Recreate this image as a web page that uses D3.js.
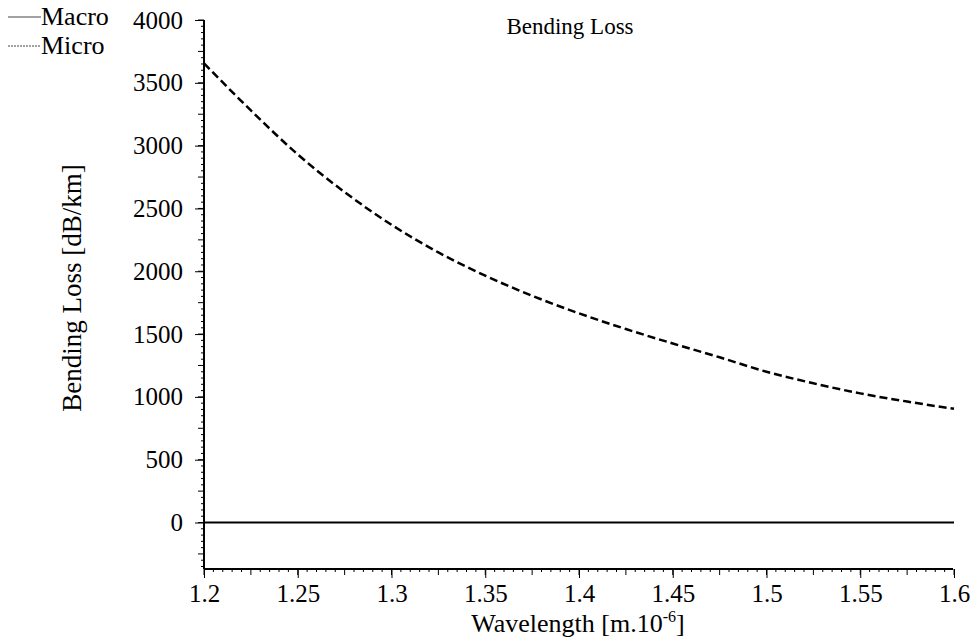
<!DOCTYPE html>
<html>
<head>
<meta charset="utf-8">
<script src="https://cdnjs.cloudflare.com/ajax/libs/d3/7.8.5/d3.min.js"></script>
<style>
  body { margin: 0; background: #fff; }
  text { font-family: "Liberation Serif", "Times New Roman", Times, serif; fill: #000; }
</style>
</head>
<body>
<div id="chart"></div>
<script>
// wavelength in micrometres
const wavelength = [1.2, 1.225, 1.25, 1.275, 1.3, 1.325, 1.35, 1.375, 1.4, 1.425, 1.45,
                    1.475, 1.5, 1.525, 1.55, 1.575, 1.6];
// bending loss, dB/km
const microLoss = [3655, 3280, 2930, 2630, 2370, 2150, 1965, 1805, 1665, 1540, 1425,
                   1315, 1200, 1108, 1028, 963, 905];
const macroLoss = [0, 0, 0, 0, 0, 0, 0, 0, 0, 0, 0, 0, 0, 0, 0, 0, 0];
const xTicks = [1.2, 1.25, 1.3, 1.35, 1.4, 1.45, 1.5, 1.55, 1.6];
const yTicks = [0, 500, 1000, 1500, 2000, 2500, 3000, 3500, 4000];

const W = 976, H = 641;
const margin = {top: 20, right: 22, bottom: 72, left: 204};
const width = W - margin.left - margin.right,
      height = H - margin.top - margin.bottom;

const svg = d3.select('#chart')
  .append('svg')
    .attr('width', W)
    .attr('height', H);
const g = svg.append('g')
  .attr('transform', 'translate(' + margin.left + ',' + margin.top + ')');

const xScale = d3.scaleLinear().domain([1.2, 1.6]).range([0, 750]);
const yScale = d3.scaleLinear().domain([-370, 4000]).range([height, 0]);

// minor / medium ticks
const xMinor = d3.range(0, 81).map(i => 1.2 + i * 0.005);
const yMinor = d3.range(-7, 81).map(i => i * 50);

g.selectAll('.xminor')
  .data(xMinor)
  .enter().append('line')
    .attr('x1', d => xScale(d)).attr('x2', d => xScale(d))
    .attr('y1', height)
    .attr('y2', (d, i) => height + (i % 5 === 0 ? 6 : 3))
    .attr('stroke', '#000').attr('stroke-width', 1);

g.selectAll('.yminor')
  .data(yMinor)
  .enter().append('line')
    .attr('y1', d => yScale(d)).attr('y2', d => yScale(d))
    .attr('x1', 0)
    .attr('x2', d => (d % 250 === 0 ? -6 : -3))
    .attr('stroke', '#000').attr('stroke-width', 1);

const xAxis = g.append('g')
  .attr('transform', 'translate(0,' + height + ')')
  .call(d3.axisBottom(xScale).tickValues(xTicks).tickSize(9).tickPadding(6)
        .tickFormat(d => String(+d.toFixed(2))));
const yAxis = g.append('g')
  .call(d3.axisLeft(yScale).tickValues(yTicks).tickSize(9).tickPadding(12)
        .tickFormat(d3.format('d')));

[xAxis, yAxis].forEach(a => {
  a.select('.domain').attr('stroke-width', 2).attr('d',
    a === xAxis ? 'M0,0H' + (width - 1) : 'M0,0V' + height);
  a.selectAll('.tick line').attr('stroke-width', 1);
  a.selectAll('text')
    .style('font-family', '"Liberation Serif", "Times New Roman", serif')
    .style('font-size', '25px')
    .attr('fill', '#000');
});

const line = d3.line()
  .x((d, i) => xScale(wavelength[i]))
  .y(d => yScale(d))
  .curve(d3.curveMonotoneX);

g.append('path')
  .datum(macroLoss)
  .attr('fill', 'none')
  .attr('stroke', '#000')
  .attr('stroke-width', 2)
  .attr('d', line);

g.append('path')
  .datum(microLoss)
  .attr('fill', 'none')
  .attr('stroke', '#000')
  .attr('stroke-width', 2.5)
  .attr('stroke-dasharray', '8,4')
  .attr('d', line);

// title
svg.append('text')
  .attr('x', 570).attr('y', 34)
  .attr('text-anchor', 'middle')
  .style('font-size', '23px')
  .text('Bending Loss');

// axis labels
const xl = svg.append('text')
  .attr('x', 578).attr('y', 632)
  .attr('text-anchor', 'middle')
  .style('font-size', '26px');
xl.append('tspan').text('Wavelength [m.10');
xl.append('tspan').attr('dy', -10).style('font-size', '16px').text('-6');
xl.append('tspan').attr('dy', 10).text(']');

svg.append('text')
  .attr('transform', 'translate(81,288) rotate(-90)')
  .attr('text-anchor', 'middle')
  .style('font-size', '27px')
  .text('Bending Loss [dB/km]');

// legend
const legend = [
  {name: 'Macro', dash: null},
  {name: 'Micro', dash: '2,1'}
];
const lg = svg.selectAll('.legend')
  .data(legend)
  .enter().append('g')
    .attr('transform', (d, i) => 'translate(8,' + (17 + i * 29) + ')');
lg.append('line')
  .attr('x1', 0).attr('x2', 33)
  .attr('y1', 0).attr('y2', 0)
  .attr('stroke', '#444')
  .attr('stroke-width', 1)
  .attr('stroke-dasharray', d => d.dash);
lg.append('text')
  .attr('x', 33).attr('y', 8)
  .style('font-size', '26px')
  .text(d => d.name);
</script>
</body>
</html>
